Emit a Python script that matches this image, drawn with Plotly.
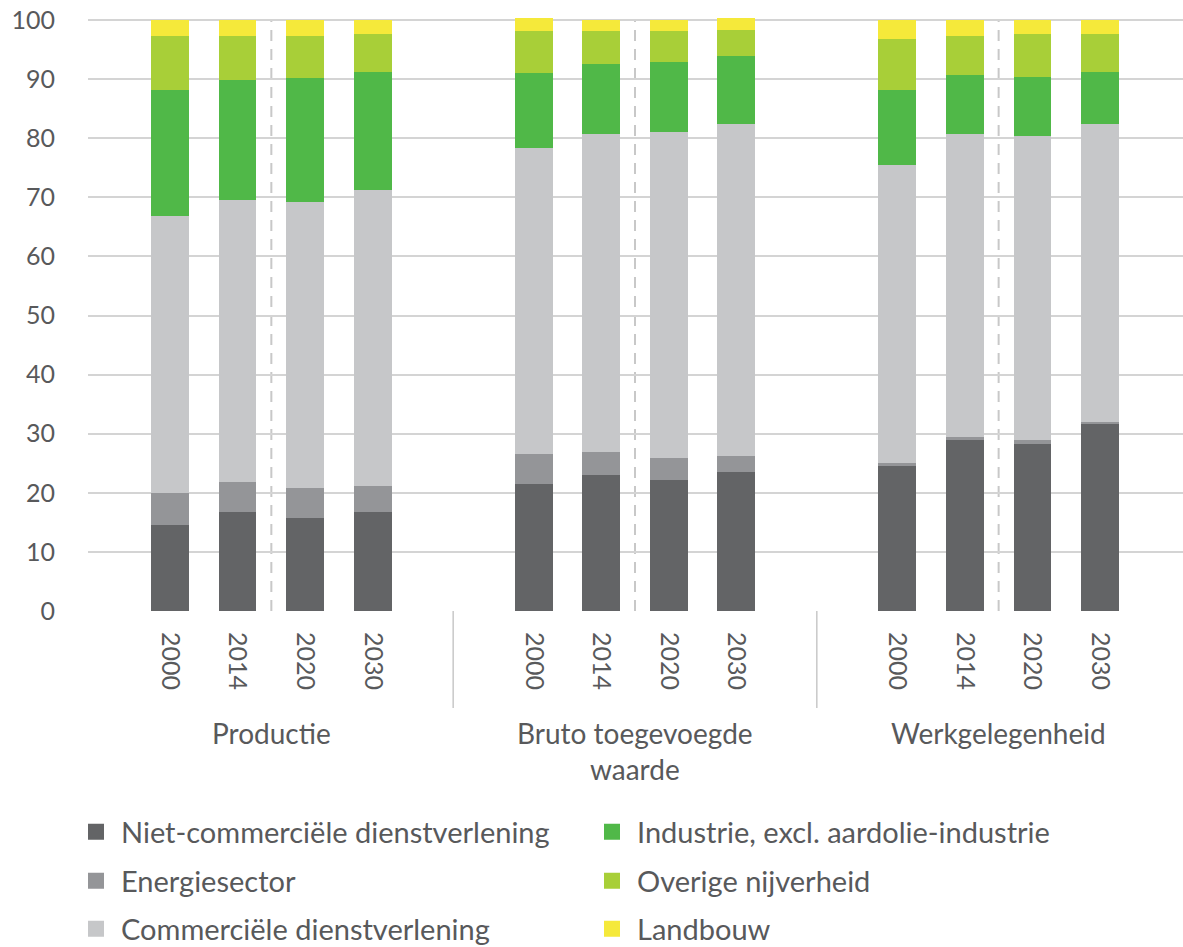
import plotly.graph_objects as go

groups = ["Productie", "Bruto toegevoegde<br>waarde", "Werkgelegenheid"]
years = ["2000", "2014", "2020", "2030"]

series_names = [
    "Niet-commerciële dienstverlening",
    "Energiesector",
    "Commerciële dienstverlening",
    "Industrie, excl. aardolie-industrie",
    "Overige nijverheid",
    "Landbouw",
]

# values per series: 12 bars (Productie 4 years, BTW 4 years, Werkgelegenheid 4 years)
niet_commercieel = [14.6, 16.7, 15.7, 16.7, 21.5, 23.1, 22.1, 23.5, 24.6, 29.0, 28.3, 31.8]
energiesector = [5.4, 5.1, 5.1, 4.4, 5.0, 3.8, 3.8, 2.7, 0.4, 0.5, 0.6, 0.2]
commercieel = [46.8, 47.8, 48.4, 50.1, 51.9, 53.8, 55.2, 56.3, 50.4, 51.2, 51.5, 50.5]
industrie = [21.4, 20.3, 21.0, 20.0, 12.6, 11.9, 11.9, 11.5, 12.8, 10.0, 9.9, 8.8]
overige = [9.2, 7.5, 7.2, 6.5, 7.1, 5.5, 5.1, 4.4, 8.6, 6.7, 7.4, 6.4]
landbouw = [2.6, 2.6, 2.6, 2.3, 2.3, 1.9, 1.9, 2.0, 3.2, 2.6, 2.3, 2.3]

series_values = [niet_commercieel, energiesector, commercieel, industrie, overige, landbouw]
colors = ["#636466", "#949598", "#c6c7c9", "#50b848", "#a8cf38", "#f5e93a"]

# layout of bar positions
GROUP_STEP = 5.385
positions = []
for g in range(len(groups)):
    for i in range(len(years)):
        positions.append(g * GROUP_STEP + i)
tick_text = years * len(groups)

TXT = "#58595b"
FONT = "Lato"
W, H = 1183, 947
PL, PT, PB = 88, 16, 336
PH = H - PT - PB

fig = go.Figure()
for name, vals, col in zip(series_names, series_values, colors):
    fig.add_trace(go.Bar(
        x=positions, y=vals, name=name, width=0.56,
        marker=dict(color=col, line=dict(width=0)),
        showlegend=False,
    ))

# legend entries: 2 columns x 3 rows, each in its own legend box
legend_keys = ["legend", "legend2", "legend3", "legend4", "legend5", "legend6"]
legend_layout = {}
row_py = [832, 881, 929]
col_px = [71, 587]
for k, (name, col) in enumerate(zip(series_names, colors)):
    key = legend_keys[k]
    c, r = k // 3, k % 3
    fig.add_trace(go.Scatter(
        x=[None], y=[None], mode="markers", name=name,
        marker=dict(symbol="square", size=19, color=col),
        legend=key, showlegend=True,
    ))
    legend_layout[key] = dict(
        x=col_px[c] / W, y=1 - row_py[r] / H, xref="container", yref="container",
        xanchor="left", yanchor="middle",
        font=dict(family=FONT, size=29, color=TXT),
        bgcolor="rgba(0,0,0,0)", itemsizing="trace", itemwidth=40,
    )

shapes = []
# dashed separators between 2014 and 2020 in each group
for g in range(len(groups)):
    xd = g * GROUP_STEP + 1.5
    shapes.append(dict(type="line", xref="x", yref="y", x0=xd, x1=xd, y0=0, y1=100,
                       line=dict(color="#c8c8c8", width=2, dash="11px,8px"), layer="below"))
# solid group separators below the axis
for g in range(len(groups) - 1):
    xs = g * GROUP_STEP + 3 + (GROUP_STEP - 3) / 2
    shapes.append(dict(type="line", xref="x", yref="paper", x0=xs, x1=xs, y0=0,
                       y1=-(708 - (PT + PH)) / PH,
                       line=dict(color="#c8c8c8", width=1.5)))

annotations = []
for g, gname in enumerate(groups):
    annotations.append(dict(
        x=g * GROUP_STEP + 1.5, xref="x", y=-(714 - (PT + PH)) / PH, yref="paper",
        text=gname, showarrow=False, xanchor="center", yanchor="top", align="center",
        font=dict(family=FONT, size=28, color=TXT),
    ))

fig.update_layout(
    width=W, height=H,
    margin=dict(l=PL, r=0, t=PT, b=PB, autoexpand=False),
    barmode="stack",
    plot_bgcolor="white", paper_bgcolor="white",
    font=dict(family=FONT, color=TXT),
    shapes=shapes, annotations=annotations,
    **legend_layout,
)
fig.update_xaxes(
    range=[-1.215, 15.0], tickvals=positions, ticktext=tick_text, tickangle=90,
    tickfont=dict(family=FONT, size=25, color=TXT), showgrid=False, zeroline=False,
    showline=False, ticks="", ticklabelstandoff=20,
)
fig.update_yaxes(
    range=[0, 100.7], tickvals=list(range(0, 101, 10)),
    tickfont=dict(family=FONT, size=25, color=TXT),
    showgrid=True, gridcolor="#d4d4d4", gridwidth=1.5, zeroline=False, showline=False,
    ticks="", ticklabelstandoff=32,
)

fig.write_html(
    "out.html",
    config={"displayModeBar": False},
    post_script="document.body.style.margin='0';document.body.style.overflow='hidden';",
)
